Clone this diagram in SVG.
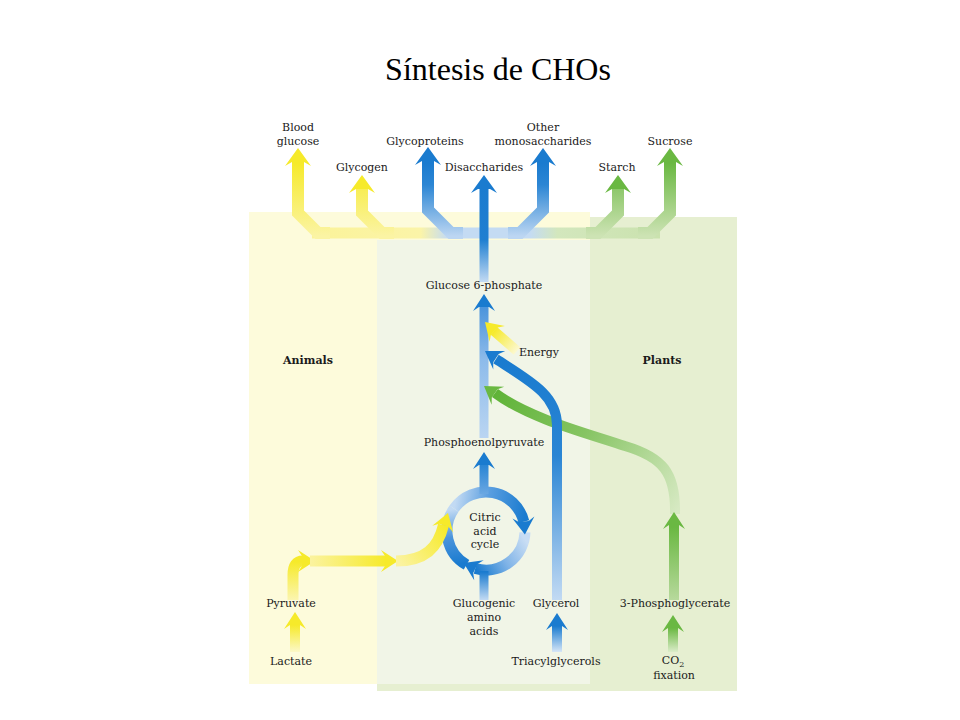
<svg xmlns="http://www.w3.org/2000/svg" xmlns:xlink="http://www.w3.org/1999/xlink" width="960" height="720" viewBox="0 0 960 720">
<style>
.lb{font-family:"DejaVu Serif","Liberation Serif",serif;font-size:11px;fill:#1a1a1a;text-anchor:middle}
.bd{font-weight:bold}
.ttl{font-family:"Liberation Serif","Times New Roman",serif;font-size:32px;fill:#000;text-anchor:middle}
.s{fill:none;stroke-linejoin:miter;stroke-linecap:butt}
.w12{stroke-width:12}
.w11{stroke-width:11}
.w10{stroke-width:10}
.w9{stroke-width:9}
.hb{fill:#1a7bcf}
.hy{fill:#f6ea2a}
.hg{fill:#6ab842}
</style>
<defs>
<path id="hT" d="M0,0 L13,18 L6,14 L-6,14 L-13,18 Z"/>
<path id="hM" d="M0,0 L11,17 L5,13 L-5,13 L-11,17 Z"/>
<linearGradient id="gYtop" gradientUnits="userSpaceOnUse" x1="0" y1="163" x2="0" y2="236"><stop offset="0" stop-color="#f6ea2a"/><stop offset="1" stop-color="#fbf4a4"/></linearGradient>
<linearGradient id="gBtop" gradientUnits="userSpaceOnUse" x1="0" y1="163" x2="0" y2="236"><stop offset="0" stop-color="#1a7bcf"/><stop offset="0.3" stop-color="#2c86d4"/><stop offset="1" stop-color="#bcd6f2"/></linearGradient>
<linearGradient id="gGtop" gradientUnits="userSpaceOnUse" x1="0" y1="163" x2="0" y2="236"><stop offset="0" stop-color="#6ab842"/><stop offset="1" stop-color="#cde3b4"/></linearGradient>
<linearGradient id="gHoriz" gradientUnits="userSpaceOnUse" x1="318" y1="0" x2="660" y2="0"><stop offset="0" stop-color="#fbf39a"/><stop offset="0.3" stop-color="#fbf4a8"/><stop offset="0.38" stop-color="#c4dbf3"/><stop offset="0.62" stop-color="#c4dbf3"/><stop offset="0.7" stop-color="#d3e7bd"/><stop offset="1" stop-color="#cae2ae"/></linearGradient>
<linearGradient id="gMainTop" gradientUnits="userSpaceOnUse" x1="0" y1="188" x2="0" y2="282"><stop offset="0" stop-color="#1a7bcf"/><stop offset="0.55" stop-color="#1f7fd1"/><stop offset="1" stop-color="#c2daf3"/></linearGradient>
<linearGradient id="gMainMid" gradientUnits="userSpaceOnUse" x1="0" y1="308" x2="0" y2="438"><stop offset="0" stop-color="#4d95dc"/><stop offset="0.4" stop-color="#8dbbea"/><stop offset="1" stop-color="#bad5f2"/></linearGradient>
<linearGradient id="gPEP" gradientUnits="userSpaceOnUse" x1="0" y1="465" x2="0" y2="494"><stop offset="0" stop-color="#2a85d4"/><stop offset="1" stop-color="#6aa7e2"/></linearGradient>
<linearGradient id="gRingA" gradientUnits="userSpaceOnUse" x1="454" y1="509" x2="524" y2="521"><stop offset="0" stop-color="#c2daf3"/><stop offset="0.45" stop-color="#5a9ee0"/><stop offset="1" stop-color="#1a7bcf"/></linearGradient>
<linearGradient id="gRingB" gradientUnits="userSpaceOnUse" x1="524" y1="538" x2="476" y2="569"><stop offset="0" stop-color="#c8ddf4"/><stop offset="0.5" stop-color="#7fb3e7"/><stop offset="1" stop-color="#1a7bcf"/></linearGradient>
<linearGradient id="gRingC" gradientUnits="userSpaceOnUse" x1="464" y1="563" x2="454" y2="509"><stop offset="0" stop-color="#1a7bcf"/><stop offset="0.5" stop-color="#4a94dc"/><stop offset="1" stop-color="#c2daf3"/></linearGradient>
<linearGradient id="gGluc" gradientUnits="userSpaceOnUse" x1="0" y1="600" x2="0" y2="572"><stop offset="0" stop-color="#c2daf3"/><stop offset="1" stop-color="#1a7bcf"/></linearGradient>
<linearGradient id="gGlyC" gradientUnits="userSpaceOnUse" x1="0" y1="360" x2="0" y2="600"><stop offset="0" stop-color="#1a7bcf"/><stop offset="0.4" stop-color="#2a85d4"/><stop offset="1" stop-color="#c2daf3"/></linearGradient>
<linearGradient id="gGlyIn" gradientUnits="userSpaceOnUse" x1="0" y1="652" x2="0" y2="626"><stop offset="0" stop-color="#d6e6f7"/><stop offset="1" stop-color="#1a7bcf"/></linearGradient>
<linearGradient id="gGC" gradientUnits="userSpaceOnUse" x1="495" y1="392" x2="676" y2="512"><stop offset="0" stop-color="#5fb337"/><stop offset="0.45" stop-color="#86c463"/><stop offset="1" stop-color="#d6e9c2"/></linearGradient>
<linearGradient id="gGUp" gradientUnits="userSpaceOnUse" x1="0" y1="600" x2="0" y2="527"><stop offset="0" stop-color="#b7d99c"/><stop offset="1" stop-color="#6ab842"/></linearGradient>
<linearGradient id="gCO2" gradientUnits="userSpaceOnUse" x1="0" y1="652" x2="0" y2="628"><stop offset="0" stop-color="#dbecc9"/><stop offset="1" stop-color="#6ab842"/></linearGradient>
<linearGradient id="gLact" gradientUnits="userSpaceOnUse" x1="0" y1="652" x2="0" y2="625"><stop offset="0" stop-color="#fcf8c8"/><stop offset="1" stop-color="#f6ea2a"/></linearGradient>
<linearGradient id="gPyr" gradientUnits="userSpaceOnUse" x1="0" y1="600" x2="0" y2="562"><stop offset="0" stop-color="#fbf5b0"/><stop offset="1" stop-color="#f6ea2a"/></linearGradient>
<linearGradient id="gYH" gradientUnits="userSpaceOnUse" x1="310" y1="0" x2="386" y2="0"><stop offset="0" stop-color="#fbf3a0"/><stop offset="1" stop-color="#f6ea2a"/></linearGradient>
<linearGradient id="gYC" gradientUnits="userSpaceOnUse" x1="398" y1="561" x2="444" y2="525"><stop offset="0" stop-color="#fbf3a0"/><stop offset="1" stop-color="#f6ea2a"/></linearGradient>
<linearGradient id="gEn" gradientUnits="userSpaceOnUse" x1="517" y1="351" x2="494" y2="331"><stop offset="0" stop-color="#fcf8d0"/><stop offset="1" stop-color="#f6ea2a"/></linearGradient>
</defs>

<g id="panels">
<rect x="377" y="217" width="360" height="474" fill="#e6efd1"/>
<rect x="249" y="212" width="341" height="472" fill="#fdfbdb"/>
<rect x="377" y="240" width="213" height="444" fill="#f1f5e7"/>
</g>

<text class="ttl" x="498" y="80">Síntesis de CHOs</text>

<g id="connectors">
<path class="s w11" stroke="url(#gHoriz)" d="M312,233 L660,233"/>
<path class="s w12" stroke="url(#gYtop)" d="M298,161 L298,213 L318,233 L330,233"/>
<path class="s w12" stroke="url(#gYtop)" d="M362,188 L362,213 L382,233 L394,233"/>
<path class="s w12" stroke="url(#gBtop)" d="M428,160 L428,210 L451,233 L463,233"/>
<path class="s w12" stroke="url(#gBtop)" d="M543,161 L543,210 L520,233 L508,233"/>
<path class="s w12" stroke="url(#gGtop)" d="M618,188 L618,213 L598,233 L586,233"/>
<path class="s w12" stroke="url(#gGtop)" d="M670,161 L670,213 L650,233 L638,233"/>
<path class="s w9" stroke="url(#gMainTop)" d="M484,188 L484,282"/>
<use href="#hT" class="hy" transform="translate(298,148)"/>
<use href="#hT" class="hy" transform="translate(362,175)"/>
<use href="#hT" class="hb" transform="translate(428,147)"/>
<use href="#hT" class="hb" transform="translate(484,175)"/>
<use href="#hT" class="hb" transform="translate(543,148)"/>
<use href="#hT" class="hg" transform="translate(618,175)"/>
<use href="#hT" class="hg" transform="translate(670,148)"/>

<path class="s w9" stroke="url(#gMainMid)" d="M484,438 L484,306"/>
<path class="s w10" stroke="url(#gGC)" d="M675,514 C676,472 662,457 625,446 C590,434 530,419 495,393"/>
<path class="s w10" stroke="url(#gGlyC)" d="M557,600 L557,425 C557,395 530,381 496,359"/>
<path class="s w10" stroke="url(#gEn)" d="M517,351 L494,331"/>
<use href="#hM" class="hb" transform="translate(484,294)"/>
<use href="#hM" class="hy" transform="translate(485,322) rotate(-46)"/>
<use href="#hM" class="hb" transform="translate(485,351) rotate(-57)"/>
<use href="#hM" class="hg" transform="translate(484,386) rotate(-55)"/>

<path class="s w11" stroke="url(#gRingA)" d="M454.05,508.63 A39,39 0 0 1 523.84,521.57"/>
<path class="s w11" stroke="url(#gRingB)" d="M524.98,532.36 A39,39 0 0 1 475.25,568.49"/>
<path class="s w11" stroke="url(#gRingC)" d="M466.5,564.8 A39,39 0 0 1 454.05,508.63"/>
<path class="s w9" stroke="url(#gGluc)" d="M484,600 L484,571"/>
<use href="#hM" class="hb" transform="translate(524.9,534.4) rotate(175)"/>
<use href="#hM" class="hb" transform="translate(463.6,563) rotate(-64.6)"/>
<path class="s w9" stroke="url(#gPEP)" d="M484,494 L484,464"/>
<use href="#hM" class="hb" transform="translate(484,452)"/>

<path class="s w10" stroke="url(#gLact)" d="M295,652 L295,624"/>
<use href="#hM" class="hy" transform="translate(295,612)"/>
<path class="s w11" stroke="url(#gPyr)" d="M293,600 L293,575 Q293,561 303,561"/>
<use href="#hM" class="hy" transform="translate(315,561) rotate(90)"/>
<path class="s w11" stroke="url(#gYH)" d="M310,561 L386,561"/>
<use href="#hM" class="hy" transform="translate(398,561) rotate(90)"/>
<path class="s w11" stroke="url(#gYC)" d="M396,561 C425,561 438,548 443.5,525"/>
<use href="#hM" class="hy" transform="translate(448,513) rotate(18)"/>

<path class="s w10" stroke="url(#gGlyIn)" d="M557,652 L557,625"/>
<use href="#hM" class="hb" transform="translate(557,613)"/>

<path class="s w10" stroke="url(#gGUp)" d="M674,600 L674,525"/>
<use href="#hM" class="hg" transform="translate(674,512)"/>
<path class="s w10" stroke="url(#gCO2)" d="M673,652 L673,627"/>
<use href="#hM" class="hg" transform="translate(673,615)"/>
</g>

<g id="n-blood-glucose"><text class="lb" x="298" y="131">Blood</text><text class="lb" x="298" y="145">glucose</text></g>
<g id="n-glycogen"><text class="lb" x="362" y="171">Glycogen</text></g>
<g id="n-glycoproteins"><text class="lb" x="425" y="145">Glycoproteins</text></g>
<g id="n-disaccharides"><text class="lb" x="484" y="171">Disaccharides</text></g>
<g id="n-other-mono"><text class="lb" x="543" y="131">Other</text><text class="lb" x="543" y="145">monosaccharides</text></g>
<g id="n-starch"><text class="lb" x="617" y="171">Starch</text></g>
<g id="n-sucrose"><text class="lb" x="670" y="145">Sucrose</text></g>
<g id="n-g6p"><text class="lb" x="484" y="289">Glucose 6-phosphate</text></g>
<g id="n-energy"><text class="lb" x="539" y="356">Energy</text></g>
<g id="n-animals"><text class="lb bd" x="308" y="364">Animals</text></g>
<g id="n-plants"><text class="lb bd" x="662" y="364">Plants</text></g>
<g id="n-pep"><text class="lb" x="484" y="446">Phosphoenolpyruvate</text></g>
<g id="n-cac"><text class="lb" x="485" y="521">Citric</text><text class="lb" x="485" y="535">acid</text><text class="lb" x="485" y="548">cycle</text></g>
<g id="n-pyruvate"><text class="lb" x="291" y="607">Pyruvate</text></g>
<g id="n-lactate"><text class="lb" x="291" y="665">Lactate</text></g>
<g id="n-glucogenic"><text class="lb" x="484" y="607">Glucogenic</text><text class="lb" x="484" y="621">amino</text><text class="lb" x="484" y="635">acids</text></g>
<g id="n-glycerol"><text class="lb" x="556" y="607">Glycerol</text></g>
<g id="n-tag"><text class="lb" x="556" y="665">Triacylglycerols</text></g>
<g id="n-3pg"><text class="lb" x="675" y="607">3-Phosphoglycerate</text></g>
<g id="n-co2"><text class="lb" x="673" y="664">CO<tspan font-size="8" dy="3">2</tspan></text><text class="lb" x="674" y="679">fixation</text></g>
</svg>
